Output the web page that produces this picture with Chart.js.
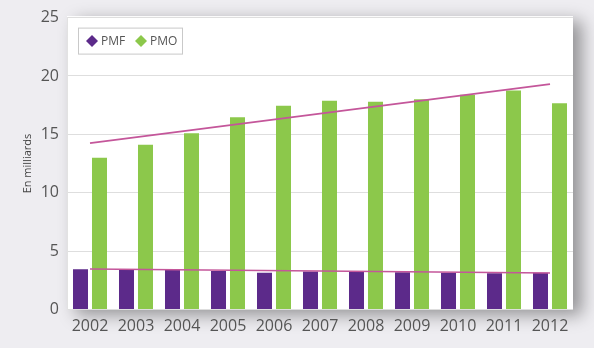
<!DOCTYPE html>
<html><head><meta charset="utf-8">
<script src="https://cdn.jsdelivr.net/npm/chart.js@4/dist/chart.umd.min.js"></script>
<style>html,body{margin:0;padding:0;background:#eeedf1;}#wrap{width:594px;height:348px;position:relative;}</style>
</head><body><div id="wrap"><canvas id="c" width="594" height="348"></canvas></div>
<script>
const years = ['2002','2003','2004','2005','2006','2007','2008','2009','2010','2011','2012'];
const pmf = [3.45, 3.47, 3.38, 3.30, 3.15, 3.25, 3.21, 3.19, 3.15, 3.10, 3.15];
const pmo = [13.0, 14.1, 15.1, 16.47, 17.46, 17.87, 17.8, 18.0, 18.4, 18.75, 17.67];
const pmoTrend = [14.25, null, null, null, null, null, null, null, null, null, 19.3];
const pmfTrend = [3.47, null, null, null, null, null, null, null, null, null, 3.13];
const yTicks = [0, 5, 10, 15, 20, 25];

const PURPLE = '#5c2a8a', GREEN = '#8cc84b', PINK = '#c4569a';

const bgPlugin = {
  id: 'bg',
  beforeDraw(chart) {
    const {ctx, chartArea: a} = chart;
    ctx.save();
    ctx.fillStyle = '#eeedf1';
    ctx.fillRect(0, 0, chart.width, chart.height);
    ctx.shadowColor = 'rgba(0,0,0,0.38)';
    ctx.shadowBlur = 16;
    ctx.shadowOffsetX = 9;
    ctx.shadowOffsetY = 5;
    ctx.fillStyle = '#ffffff';
    ctx.fillRect(a.left, a.top - 1.5, a.right - a.left, a.bottom - a.top + 1.5);
    ctx.restore();
  }
};

const legendPlugin = {
  id: 'customLegend',
  afterDraw(chart) {
    const {ctx, chartArea: a} = chart;
    const x0 = a.left + 11, y0 = a.top + 10;
    ctx.save();
    ctx.strokeStyle = '#c9c9c9';
    ctx.lineWidth = 1;
    ctx.fillStyle = '#ffffff';
    ctx.fillRect(x0, y0, 104, 26);
    ctx.strokeRect(x0 + 0.5, y0 + 0.5, 104, 26);
    const items = [{label: chart.data.datasets[0].label, color: PURPLE, dx: 14},
                   {label: chart.data.datasets[1].label, color: GREEN, dx: 63}];
    ctx.font = '12px "Open Sans", sans-serif';
    ctx.textBaseline = 'middle';
    items.forEach(it => {
      const cx = x0 + it.dx, cy = y0 + 13.5;
      ctx.fillStyle = it.color;
      ctx.beginPath();
      ctx.moveTo(cx, cy - 6); ctx.lineTo(cx + 6, cy); ctx.lineTo(cx, cy + 6); ctx.lineTo(cx - 6, cy);
      ctx.closePath(); ctx.fill();
      ctx.fillStyle = '#555555';
      ctx.fillText(it.label, cx + 9, cy);
    });
    ctx.restore();
  }
};

new Chart(document.getElementById('c'), {
  type: 'bar',
  data: {
    labels: years,
    datasets: [
      {label: 'PMF', data: pmf, backgroundColor: PURPLE, categoryPercentage: 0.826, barPercentage: 0.79, order: 2},
      {label: 'PMO', data: pmo, backgroundColor: GREEN, categoryPercentage: 0.826, barPercentage: 0.79, order: 2},
      {type: 'line', label: 'Tendance PMO', data: pmoTrend, borderColor: PINK, borderWidth: 1.6, pointRadius: 0, spanGaps: true, fill: false, order: 0},
      {type: 'line', label: 'Tendance PMF', data: pmfTrend, borderColor: PINK, borderWidth: 1.6, pointRadius: 0, spanGaps: true, fill: false, order: 0}
    ]
  },
  options: {
    responsive: false,
    animation: false,
    devicePixelRatio: 1,
    layout: {padding: {left: 0, right: 21, top: 17, bottom: 0}},
    plugins: {legend: {display: false}, tooltip: {enabled: false}},
    scales: {
      x: {
        grid: {display: false, drawTicks: false},
        border: {display: false},
        ticks: {color: '#555555', font: {family: '"Open Sans", sans-serif', size: 16}, padding: 7, maxRotation: 0, autoSkip: false},
        afterFit(s) { s.height = 38.5; }
      },
      y: {
        min: 0, max: 25,
        afterBuildTicks(s) { s.ticks = yTicks.map(v => ({value: v})); },
        grid: {color: '#dedede', lineWidth: 1, drawTicks: false},
        border: {display: true, color: '#e2e2e2'},
        ticks: {color: '#555555', font: {family: '"Open Sans", sans-serif', size: 16}, padding: 8},
        title: {display: true, text: 'En milliards', color: '#444444', font: {family: '"Open Sans", sans-serif', size: 11}, padding: {top: 21, bottom: 0}},
        afterFit(s) { s.width = 67; }
      }
    }
  },
  plugins: [bgPlugin, legendPlugin]
});
</script></body></html>
